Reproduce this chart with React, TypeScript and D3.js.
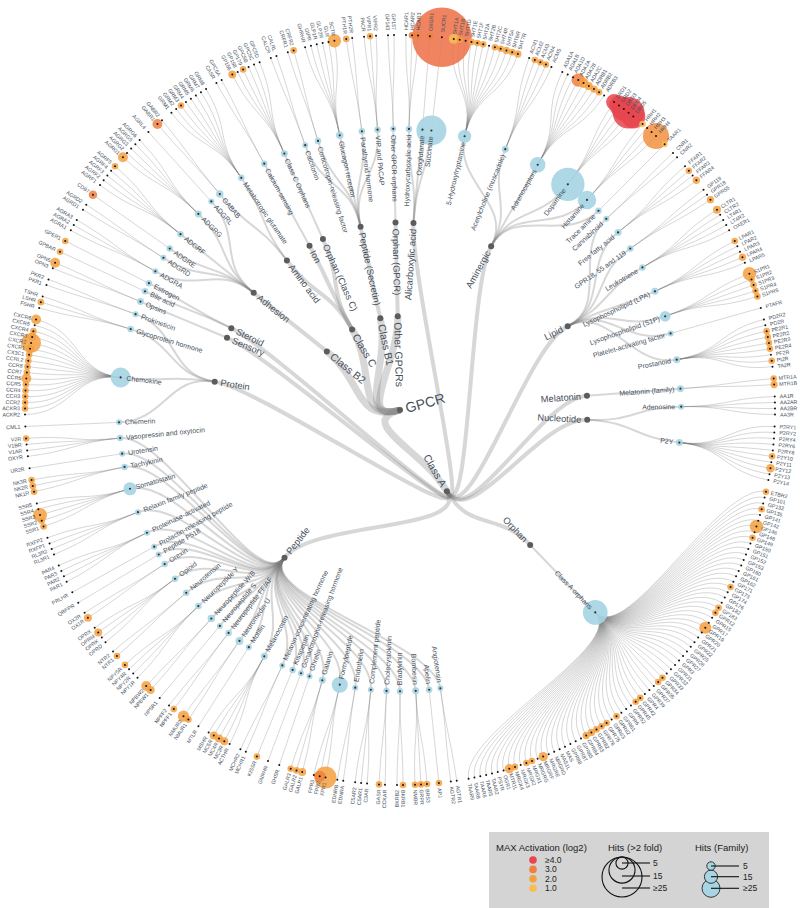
import React from "react";
import * as d3 from "d3";

const W = 800;
const H = 908;
const CX = 400;
const CY = 410;
const R = 375;

type Fam = [string, string, number, string[]]; // subclass, family, family hits, leaves

const classAFamilies: Fam[] = [
  ["Alicarboxylic acid", "Hydroxycarboxylic acid", 1, ["HCAR1", "HCAR2", "HCAR3"]],
  ["Alicarboxylic acid", "Oxoglutarate", 2, ["OXGR1"]],
  ["Alicarboxylic acid", "Succinate", 50, ["SUCR1"]],
  ["Aminergic", "5-Hydroxytryptamine", 15, ["5HT1A", "5HT1B", "5HT1D", "5HT1E", "5HT1F", "5HT2A", "5HT2B", "5HT2C", "5HT4R", "5HT5A", "5HT6R", "5HT7R"]],
  ["Aminergic", "Acetylcholine (muscarinic)", 2, ["ACM1", "ACM2", "ACM3", "ACM4", "ACM5"]],
  ["Aminergic", "Adrenoceptors", 20, ["ADA1A", "ADA1B", "ADA1D", "ADA2A", "ADA2B", "ADA2C", "ADRB1", "ADRB2", "ADRB3"]],
  ["Aminergic", "Dopamine", 57, ["DRD1", "DRD2", "DRD3", "DRD4", "DRD5"]],
  ["Aminergic", "Histamine", 26, ["HRH1", "HRH2", "HRH3", "HRH4"]],
  ["Aminergic", "Trace amine", 1, ["TAAR1"]],
  ["Lipid", "Cannabinoid", 0, ["CNR1", "CNR2"]],
  ["Lipid", "Free fatty acid", 2, ["FFAR1", "FFAR2", "FFAR3", "FFAR4"]],
  ["Lipid", "GPR18, 55 and 119", 1, ["GP119", "GPR18", "GPR55"]],
  ["Lipid", "Leukotriene", 1, ["CLTR1", "CLTR2", "LT4R1", "LT4R2", "OXER1"]],
  ["Lipid", "Lysophospholipid (LPA)", 2, ["LPAR1", "LPAR2", "LPAR3", "LPAR4", "LPAR5"]],
  ["Lipid", "Lysophospholipid (S1P)", 10, ["S1PR1", "S1PR2", "S1PR3", "S1PR4", "S1PR5"]],
  ["Lipid", "Platelet-activating factor", 0, ["PTAFR"]],
  ["Lipid", "Prostanoid", 2, ["PD2R2", "PD2R", "PE2R1", "PE2R2", "PE2R3", "PE2R4", "PF2R", "PI2R", "TA2R"]],
  ["Melatonin", "Melatonin (family)", 2, ["MTR1A", "MTR1B"]],
  ["Nucleotide", "Adenosine", 0, ["AA1R", "AA2AR", "AA2BR", "AA3R"]],
  ["Nucleotide", "P2Y", 2, ["P2RY1", "P2RY2", "P2RY4", "P2RY6", "P2RY8", "P2Y10", "P2Y11", "P2Y12", "P2Y13", "P2Y14"]],
  ["Orphan", "Class A orphans", 39, ["ETBR2", "GP101", "GP132", "GP135", "GP141", "GP142", "GP146", "GP148", "GP149", "GP150", "GP151", "GP152", "GP153", "GP160", "GP161", "GP162", "GP171", "GP173", "GP174", "GP176", "GP182", "GP183", "GPR12", "GPR15", "GPR17", "GPR19", "GPR20", "GPR21", "GPR22", "GPR25", "GPR26", "GPR27", "GPR3", "GPR31", "GPR32", "GPR33", "GPR34", "GPR35", "GPR37", "GPR39", "GPR4", "GPR42", "GPR45", "GPR52", "GPR6", "GPR61", "GPR62", "GPR63", "GPR75", "GPR78", "GPR82", "GPR83", "GPR84", "GPR85", "GPR87", "GPR88", "MAS", "MAS1L", "MRGRD", "MRGRE", "MRGRF", "MRGRG", "MRGX1", "MRGX2", "MRGX3", "MRGX4", "MTR1L", "OGR1", "PSYR", "TAAR2", "TAAR5", "TAAR6", "TAAR8", "TAAR9"]],
  ["Peptide", "Angiotensin", 0, ["AGTR1", "AGTR2"]],
  ["Peptide", "Apelin", 1, ["APJ"]],
  ["Peptide", "Bombesin", 2, ["BRS3", "GRPR", "NMBR"]],
  ["Peptide", "Bradykinin", 1, ["BKRB1", "BKRB2"]],
  ["Peptide", "Cholecystokinin", 1, ["CCKAR", "GASR"]],
  ["Peptide", "Complement peptide", 0, ["C3AR", "C5AR1", "C5AR2"]],
  ["Peptide", "Endothelin", 0, ["EDNRA", "EDNRB"]],
  ["Peptide", "Formylpeptide", 21, ["FPR1", "FPR2", "FPR3"]],
  ["Peptide", "Galanin", 2, ["GALR1", "GALR2", "GALR3"]],
  ["Peptide", "Ghrelin", 0, ["GHSR"]],
  ["Peptide", "Gonadotrophin-releasing hormone", 0, ["GNRHR"]],
  ["Peptide", "Kisspeptin", 1, ["KISSR"]],
  ["Peptide", "Melanin-concentrating hormone", 0, ["MCHR1", "MCHR2"]],
  ["Peptide", "Melanocortin", 2, ["ACTHR", "MC3R", "MC4R", "MC5R", "MSHR"]],
  ["Peptide", "Motilin", 0, ["MTLR"]],
  ["Peptide", "Neuromedin U", 4, ["NMUR1", "NMUR2"]],
  ["Peptide", "Neuropeptide FF/AF", 1, ["NPFF1", "NPFF2"]],
  ["Peptide", "Neuropeptide S", 0, ["NPSR1"]],
  ["Peptide", "Neuropeptide W/B", 3, ["NPBW1", "NPBW2"]],
  ["Peptide", "Neuropeptide Y", 1, ["NPY1R", "NPY2R", "NPY4R", "NPY5R"]],
  ["Peptide", "Neurotensin", 1, ["NTR1", "NTR2"]],
  ["Peptide", "Opioid", 1, ["OPRD", "OPRK", "OPRM", "OPRX"]],
  ["Peptide", "Orexin", 1, ["OX1R", "OX2R"]],
  ["Peptide", "Peptide P518", 0, ["QRFPR"]],
  ["Peptide", "Prolactin-releasing peptide", 0, ["PRLHR"]],
  ["Peptide", "Proteinase-activated", 0, ["PAR1", "PAR2", "PAR3", "PAR4"]],
  ["Peptide", "Relaxin family peptide", 0, ["RL3R1", "RL3R2", "RXFP1", "RXFP2"]],
  ["Peptide", "Somatostatin", 15, ["SSR1", "SSR2", "SSR3", "SSR4", "SSR5"]],
  ["Peptide", "Tachykinin", 1, ["NK1R", "NK2R", "NK3R"]],
  ["Peptide", "Urotensin", 0, ["UR2R"]],
  ["Peptide", "Vasopressin and oxytocin", 1, ["OXYR", "V1AR", "V1BR", "V2R"]],
  ["Protein", "Chemerin", 0, ["CML1"]],
  ["Protein", "Chemokine", 29, ["ACKR2", "ACKR3", "CCR2", "CCR3", "CCR4", "CCR5", "CCR6", "CCR7", "CCR8", "CCRL2", "CX3C1", "CXCR1", "CXCR2", "CXCR3", "CXCR4", "CXCR5", "CXCR6"]],
  ["Protein", "Glycoprotein hormone", 1, ["FSHR", "LSHR", "TSHR"]],
  ["Protein", "Prokineticin", 0, ["PKR1", "PKR2"]],
  ["Sensory", "Opsins", 2, ["OPN3", "OPN5"]],
  ["Steroid", "Bile acid", 1, ["GPBAR"]],
  ["Steroid", "Estrogen", 1, ["GPER1"]],
];

const classB2Families: Fam[] = [
  ["Adhesion", "ADGRA", 0, ["AGRA1", "AGRA2", "AGRA3"]],
  ["Adhesion", "ADGRD", 0, ["AGRD1", "AGRD2"]],
  ["Adhesion", "ADGRE", 1, ["CD97"]],
  ["Adhesion", "ADGRF", 1, ["AGRF1", "AGRF2", "AGRF3", "AGRF4", "AGRF5"]],
  ["Adhesion", "ADGRG", 2, ["AGRG1", "AGRG2", "AGRG3", "AGRG5", "AGRG6"]],
  ["Adhesion", "ADGRL", 0, ["AGRL4"]],
];

const classCFamilies: Fam[] = [
  ["Amino acid", "GABAB", 3, ["GABR1", "GABR2"]],
  ["Amino acid", "Metabotropic glutamate", 1, ["GRM1", "GRM2", "GRM3", "GRM4", "GRM5", "GRM6", "GRM7", "GRM8"]],
  ["Ion", "Calcium-sensing", 1, ["CASR", "GPC6A"]],
  ["Orphan (Class C)", "Class C Orphans", 2, ["GP156", "GP158", "GP179", "GPC5B", "GPC5C", "GPC5D"]],
];

const classB1Families: Fam[] = [
  ["Peptide (Secretin)", "Calcitonin", 0, ["CALCR", "CALRL"]],
  ["Peptide (Secretin)", "Corticotropin-releasing factor", 1, ["CRFR1", "CRFR2"]],
  ["Peptide (Secretin)", "Glucagon receptor", 3, ["GHRHR", "GIPR", "GLP1R", "GLP2R", "GLR", "SCTR"]],
  ["Peptide (Secretin)", "Parathyroid hormone", 1, ["PTH1R", "PTH2R"]],
  ["Peptide (Secretin)", "VIP and PACAP", 1, ["PACR", "VIPR1", "VIPR2"]],
];

const otherFamilies: Fam[] = [
  ["Orphan (GPCR)", "Other GPCR orphans", 0, ["GP143", "GP157"]],
];

const classes: [string, Fam[]][] = [
  ["Class A", classAFamilies],
  ["Class B2", classB2Families],
  ["Class C", classCFamilies],
  ["Class B1", classB1Families],
  ["Other GPCRs", otherFamilies],
];

// receptor, hits (>2 fold), max activation (log2)
const leafHits: [string, number, number][] = [
  ["HCAR2", 1, 3], ["HCAR3", 1, 3], ["OXGR1", 1, 3], ["SUCR1", 39, 3.3],
  ["5HT1A", 3.4, 1], ["5HT1B", 1, 2], ["5HT1E", 1, 2], ["5HT1F", 1, 2], ["5HT2A", 1, 2], ["5HT2C", 1, 2],
  ["5HT4R", 1, 2], ["5HT5A", 1.5, 2], ["5HT6R", 1, 2], ["5HT7R", 1.5, 2],
  ["ACM2", 1, 2], ["ACM3", 1, 2], ["ACM4", 1, 2],
  ["ADA2A", 5.9, 3], ["ADA2B", 3.4, 2], ["ADA2C", 2, 2], ["ADRB1", 1.5, 2], ["ADRB2", 1, 2],
  ["DRD1", 7.8, 4], ["DRD2", 10.6, 4], ["DRD3", 13.5, 4], ["DRD4", 19, 4], ["DRD5", 13.5, 4],
  ["HRH1", 1, 1], ["HRH4", 15, 2.5], ["TAAR1", 0.5, 1],
  ["FFAR2", 1, 2], ["FFAR4", 1.5, 2], ["GPR55", 1.5, 2], ["CLTR1", 2, 2], ["LPAR1", 1, 2], ["LPAR4", 1.5, 2],
  ["S1PR1", 5.9, 2], ["S1PR2", 1, 2], ["S1PR3", 1, 2], ["S1PR4", 1, 2], ["S1PR5", 1, 2],
  ["PE2R1", 1, 2], ["PE2R2", 1, 2], ["PE2R3", 1, 2], ["PE2R4", 1, 2], ["PI2R", 1, 2],
  ["MTR1A", 1, 2], ["MTR1B", 1.5, 2], ["P2Y10", 1, 2], ["P2Y12", 2.4, 2],
  ["ETBR2", 1, 2], ["GP135", 1, 2], ["GP146", 5.9, 2], ["GP149", 1, 2], ["GP173", 1, 2], ["GP183", 1, 2],
  ["GPR12", 1, 2], ["GPR19", 5, 2], ["GPR34", 1, 2], ["GPR35", 1, 2], ["GPR42", 1, 2], ["GPR45", 1, 2],
  ["GPR62", 1, 2], ["GPR75", 1, 2], ["GPR78", 1, 2], ["GPR82", 1, 2], ["GPR83", 1.5, 2], ["GPR84", 1.5, 2],
  ["MRGRF", 3, 2], ["MRGX1", 1, 2], ["MRGX2", 1, 2], ["MRGX4", 1, 2], ["MTR1L", 3, 2],
  ["APJ", 1, 2], ["BRS3", 1, 2], ["GRPR", 1, 2], ["NMBR", 1, 2], ["BKRB1", 1, 2], ["GASR", 1, 2],
  ["FPR1", 12, 2], ["FPR2", 4.4, 3], ["GALR1", 2, 2], ["GALR2", 1, 2], ["GALR3", 1, 2], ["KISSR", 1, 2],
  ["MC3R", 2, 2], ["MC4R", 2, 2], ["MC5R", 2, 2], ["NMUR1", 1, 2], ["NMUR2", 4.4, 2], ["NPFF1", 1, 2],
  ["NPBW1", 2, 2], ["NPBW2", 3.4, 2], ["NPY5R", 1, 2], ["NTR1", 1, 2], ["OPRM", 2, 2], ["OX1R", 2, 2],
  ["SSR1", 1, 2], ["SSR2", 1, 2], ["SSR3", 6.3, 2], ["NK1R", 1, 2], ["NK2R", 1, 2], ["NK3R", 1, 2], ["V2R", 1, 2],
  ["ACKR3", 1, 2], ["CCR2", 1, 2], ["CCR3", 1, 2], ["CCR4", 1, 2], ["CCR5", 1, 2], ["CCR6", 3.4, 2],
  ["CCR7", 1, 2], ["CCR8", 1, 2], ["CCRL2", 1, 2], ["CX3C1", 1, 2], ["CXCR1", 2, 2], ["CXCR2", 10.6, 2],
  ["CXCR3", 2, 2], ["CXCR4", 1, 2], ["CXCR6", 3.4, 2], ["LSHR", 1, 2],
  ["OPN5", 3.4, 2], ["GPBAR", 1, 2], ["GPER1", 1, 2], ["CD97", 2.4, 3], ["AGRF5", 1, 2], ["AGRG1", 3.4, 2],
  ["GABR1", 3.4, 3], ["GRM3", 1, 2], ["GP156", 2, 2], ["GP179", 1, 2],
  ["CRFR2", 1, 2], ["SCTR", 5.9, 2], ["PTH1R", 1, 2], ["VIPR1", 1, 2],
];

const activationLevels = [4, 3, 2, 1];
const activationLabels = ["≥4.0", "3.0", "2.0", "1.0"];
const activationColors = ["#f9bd55", "#f5a040", "#ef8040", "#e8454e"]; // for 1,2,3,4
const hitLegendValues = [5, 15, 25];
const hitLegendLabels = ["5", "15", "≥25"];

const leafR = d3.scaleLinear().domain([1, 25]).range([3.3, 20]);
const famR = d3.scaleLinear().domain([0, 25]).range([3, 9]);
const actColor = d3.scaleLinear<string>().domain([1, 2, 3, 4]).range(activationColors).clamp(true);

const TEXT = "#46505c";
const FONT = "'Liberation Sans', Arial, Helvetica, sans-serif";

function buildData() {
  const root: any = { name: "GPCR", children: [] };
  classes.forEach(([cls, fams]) => {
    const cn: any = { name: cls, children: [] };
    root.children.push(cn);
    const subs = new Map<string, any>();
    fams.forEach(([sub, fam, fh, leaves]) => {
      let sn = subs.get(sub);
      if (!sn) {
        sn = { name: sub, children: [] };
        subs.set(sub, sn);
        cn.children.push(sn);
      }
      sn.children.push({ name: fam, famHits: fh, children: leaves.map((l) => ({ name: l })) });
    });
  });
  return root;
}

function outward(a: number, r: number) {
  return a < 180
    ? { transform: `rotate(${a - 90}) translate(${r},0)`, anchor: "start" }
    : { transform: `rotate(${a - 90}) translate(${r},0) rotate(180)`, anchor: "end" };
}
function inward(a: number, r: number) {
  return a < 180
    ? { transform: `rotate(${a - 90}) translate(${r},0)`, anchor: "end" }
    : { transform: `rotate(${a - 90}) translate(${r},0) rotate(180)`, anchor: "start" };
}
function pt(a: number, r: number): [number, number] {
  const t = (a * Math.PI) / 180;
  return [r * Math.sin(t), -r * Math.cos(t)];
}

export default function App() {
  const root = React.useMemo(() => {
    const h = d3.hierarchy(buildData());
    d3.tree<any>().size([360, R])(h);
    return h as any;
  }, []);

  const hitMap = new Map(leafHits.map(([n, h, a]) => [n, { h, a }]));
  const linkGen = d3
    .linkRadial<any, any>()
    .angle((d: any) => (d.x * Math.PI) / 180)
    .radius((d: any) => d.y);

  const links = root.links();
  const nodes = root.descendants();
  const leaves = root.leaves();
  const fams = nodes.filter((n: any) => n.depth === 3);
  const inner = nodes.filter((n: any) => n.depth <= 2);
  const widths = [0, 7, 4, 2, 1];
  const fontSizes = [14, 10.5, 9.3, 7];

  const hitLeaves = leaves
    .filter((l: any) => hitMap.has(l.data.name))
    .sort((a: any, b: any) => hitMap.get(b.data.name)!.h - hitMap.get(a.data.name)!.h);

  const LX = 489, LY = 832;
  return (
    <svg
      width={W}
      height={H}
      style={{ position: "absolute", left: 0, top: 0, background: "#fff" }}
      fontFamily={FONT}
    >
      <g transform={`translate(${CX},${CY})`}>
        {links.map((l: any, i: number) => (
          <path
            key={i}
            d={linkGen(l) as string}
            fill="none"
            stroke="#7a7a7a"
            strokeOpacity={0.3}
            strokeWidth={widths[l.target.depth]}
          />
        ))}
        {fams.map((f: any, i: number) => {
          const [x, y] = pt(f.x, f.y);
          return <circle key={i} cx={x} cy={y} r={famR(f.data.famHits)} fill="#a8d5e4" fillOpacity={0.92} />;
        })}
        {hitLeaves.map((l: any, i: number) => {
          const v = hitMap.get(l.data.name)!;
          const [x, y] = pt(l.x, l.y);
          return <circle key={i} cx={x} cy={y} r={leafR(v.h)} fill={actColor(v.a)} fillOpacity={0.85} />;
        })}
        {leaves.map((l: any, i: number) => {
          const [x, y] = pt(l.x, l.y);
          return <circle key={i} cx={x} cy={y} r={1} fill="#111" />;
        })}
        {fams.map((f: any, i: number) => {
          const [x, y] = pt(f.x, f.y);
          return <circle key={i} cx={x} cy={y} r={1.1} fill="#333" />;
        })}
        {inner.map((n: any, i: number) => {
          const [x, y] = pt(n.x, n.y);
          return <circle key={i} cx={x} cy={y} r={3} fill="#5c5c5c" />;
        })}
        {leaves.map((l: any, i: number) => {
          const t = outward(l.x, l.y + 5);
          return (
            <text key={i} transform={t.transform} textAnchor={t.anchor} dy="0.35em" fontSize={5.3} fill={TEXT}>
              {l.data.name}
            </text>
          );
        })}
        {nodes
          .filter((n: any) => n.depth <= 3)
          .map((n: any, i: number) => {
            const t = inward(n.x, n.y - 6);
            return (
              <text key={i} transform={t.transform} textAnchor={t.anchor} dy="0.35em" fontSize={fontSizes[n.depth]} fill={TEXT}>
                {n.data.name}
              </text>
            );
          })}
      </g>

      <g>
        <rect x={LX} y={LY} width={280} height={H - LY} fill="#d4d4d4" />
        <text x={LX + 7} y={LY + 19} fontSize={9.5} fill="#222">
          MAX Activation (log2)
        </text>
        {activationLevels.map((a, i) => (
          <g key={a}>
            <circle cx={LX + 44} cy={LY + 28 + i * 9.4} r={3.8} fill={actColor(a)} />
            <text x={LX + 56} y={LY + 28 + i * 9.4} dy="0.35em" fontSize={8.5} fill="#222">
              {activationLabels[i]}
            </text>
          </g>
        ))}
        <text x={608} y={LY + 19} fontSize={9.5} fill="#222">
          Hits (&gt;2 fold)
        </text>
        {hitLegendValues.map((v, i) => {
          const r = leafR(v);
          const ly = [863, 876, 888][i];
          return (
            <g key={v}>
              <circle cx={622} cy={857 + r} r={r} fill="none" stroke="#111" strokeWidth={1.1} />
              <line x1={622} x2={650} y1={ly} y2={ly} stroke="#111" strokeWidth={1.1} />
              <text x={653} y={ly} dy="0.35em" fontSize={8.5} fill="#222">
                {hitLegendLabels[i]}
              </text>
            </g>
          );
        })}
        <text x={695} y={LY + 19} fontSize={9.5} fill="#222">
          Hits (Family)
        </text>
        {hitLegendValues
          .map((v, i) => ({ v, i }))
          .reverse()
          .map(({ v, i }) => {
            const cy = [866, 876.7, 888.3][i];
            return (
              <g key={v}>
                <circle cx={711} cy={cy} r={famR(v)} fill="#a8d5e4" stroke="#111" strokeWidth={0.8} />
              </g>
            );
          })}
        {hitLegendValues.map((v, i) => {
          const cy = [866, 876.7, 888.3][i];
          return (
            <g key={"l" + v}>
              <line x1={711} x2={739} y1={cy} y2={cy} stroke="#111" strokeWidth={1.1} />
              <text x={743} y={cy} dy="0.35em" fontSize={8.5} fill="#222">
                {hitLegendLabels[i]}
              </text>
            </g>
          );
        })}
      </g>
    </svg>
  );
}
